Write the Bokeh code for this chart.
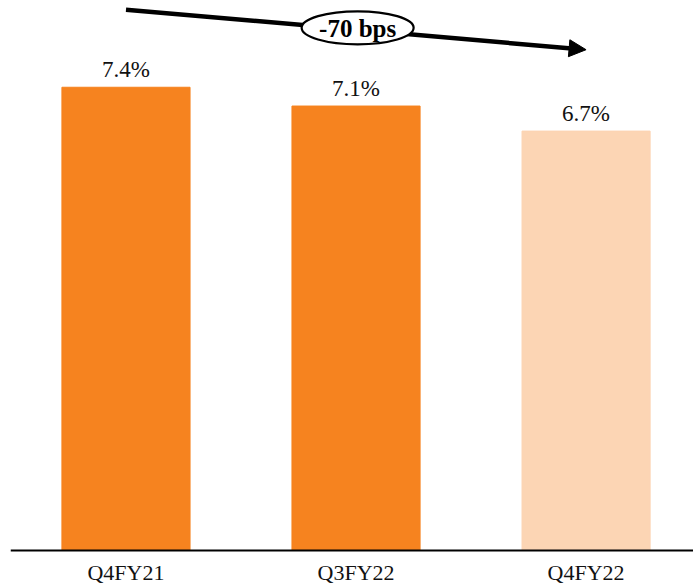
from bokeh.plotting import figure
from bokeh.models import ColumnDataSource, Range1d, LabelSet, Arrow, NormalHead, Span
from bokeh.core.properties import value
from bokeh.embed import file_html
from bokeh.resources import INLINE

# Quarterly margin figures
quarters = ["Q4FY21", "Q3FY22", "Q4FY22"]
margins = [7.4, 7.1, 6.7]
margin_labels = ["7.4%", "7.1%", "6.7%"]
bar_colors = ["#F6831F", "#F6831F", "#FCD5B4"]
change_label = "-70 bps"

FONT = "Liberation Serif"

xs = list(range(len(quarters)))
src = ColumnDataSource(dict(x=xs, top=margins, base=[0] * len(xs), label=margin_labels,
                            quarter=quarters, color=bar_colors))

# The frame runs below zero so the quarter names sit inside it
p = figure(
    width=693, height=586,
    x_range=Range1d(-0.502, 2.467), y_range=Range1d(-0.575, 8.786),
    output_backend="svg", toolbar_location=None, tools="",
    min_border_left=10, min_border_right=0, min_border_top=0, min_border_bottom=0,
    x_axis_location=None, y_axis_location=None,
)
p.outline_line_color = None
p.xgrid.visible = False
p.ygrid.visible = False
p.background_fill_color = "white"
p.border_fill_color = "white"

p.vbar(x="x", top="top", width=0.557, bottom=0, color="color", source=src)

# Baseline under the bars
p.add_layout(Span(location=0, dimension="width", line_color="black", line_width=2))

# Value labels above the bars
labels = LabelSet(x="x", y="top", text="label", source=src, y_offset=10,
                  text_align="center", text_baseline="alphabetic",
                  text_font=value(FONT), text_font_size="23px", text_color="#111111")
p.add_layout(labels)

# Quarter names under the baseline
cat_labels = LabelSet(x="x", y="base", text="quarter", source=src, y_offset=-29,
                      text_align="center", text_baseline="alphabetic",
                      text_font=value(FONT), text_font_size="22px", text_color="#111111")
p.add_layout(cat_labels)

# Trend arrow from the first to the last quarter, drawn beneath the badge
arrow = Arrow(x_start=0.0, y_start=8.64, x_end=2.0, y_end=8.0,
              line_width=4.5, line_color="black",
              end=NormalHead(size=17, fill_color="black", line_color="black"),
              level="underlay")
p.add_layout(arrow)

# Oval badge with the change in basis points
p.ellipse(x=[1.007], y=[8.35], width=112, height=33, width_units="screen",
          height_units="screen", fill_color="white", line_color="black", line_width=2.2)
p.text(x=[1.007], y=[8.35], text=[change_label], text_align="center",
       text_baseline="middle", text_font=value(FONT), text_font_size="25px",
       text_font_style="bold", text_color="black", y_offset=1)

open("out.html", "w").write(file_html(p, INLINE))
